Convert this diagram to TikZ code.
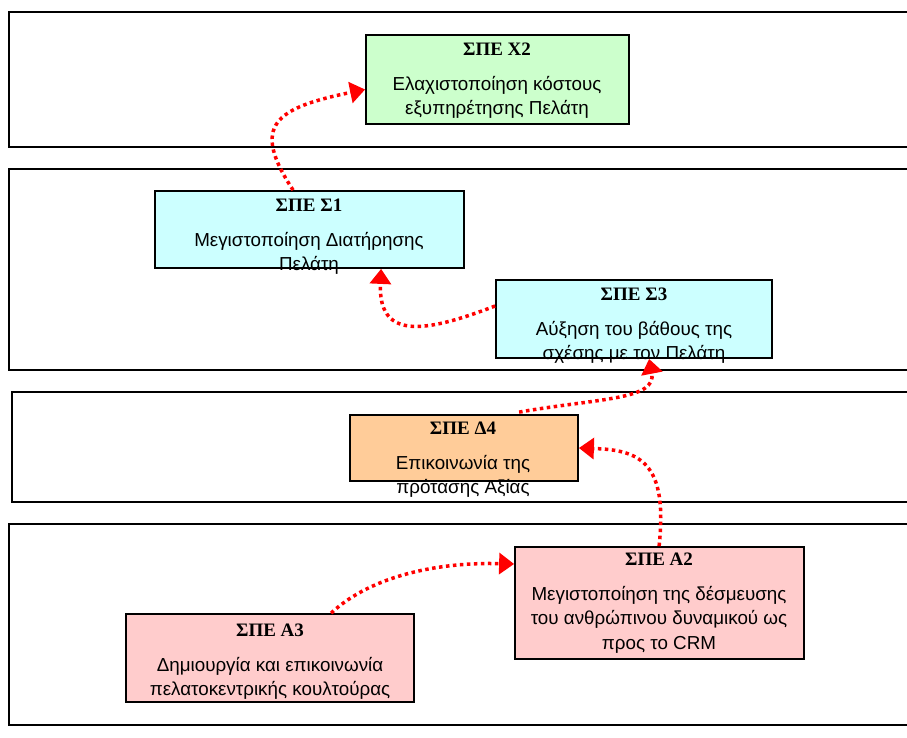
\documentclass[tikz,border=0pt]{standalone}
\usepackage{fontspec}
\setmainfont{Liberation Sans}
\newfontfamily\headfont{Liberation Serif}
\usetikzlibrary{arrows.meta}
\definecolor{kgreen}{HTML}{CCFFCC}
\definecolor{kcyan}{HTML}{CCFFFF}
\definecolor{korange}{HTML}{FFCC99}
\definecolor{kpink}{HTML}{FFCCCC}
\definecolor{kred}{HTML}{FF0000}
\tikzset{
  band/.style={line width=1.5pt, draw=black},
  goalbox/.style={draw=black, line width=1.8pt, inner sep=0pt},
  goaltext/.style={align=center, anchor=north, inner sep=0pt,
    font=\fontsize{18.8}{24.5}\selectfont},
  link/.style={draw=kred, line width=3.5pt, dash pattern=on 3.5pt off 3.5pt,
    -{Triangle[length=15pt,width=21pt]}}
}
\newcommand{\goalhead}[1]{{\headfont\bfseries\fontsize{19}{22}\selectfont #1}\\[10pt]}
\begin{document}
\begin{tikzpicture}[x=1pt,y=-1pt]
\clip (0,0) rectangle (907,738);
\fill[white] (0,0) rectangle (907,738);

% horizontal bands, open towards the right edge
\draw[band] (930,12)  -| (9,147)  -- (930,147);
\draw[band] (930,169) -| (9,370)  -- (930,370);
\draw[band] (930,392) -| (12,502) -- (930,502);
\draw[band] (930,524) -| (9,725)  -- (930,725);

% goal boxes
\node[goalbox, fill=kgreen,  minimum width=263pt, minimum height=89pt] (x2) at (497.5,79.5) {};
\node[goalbox, fill=kcyan,   minimum width=309pt, minimum height=77pt] (s1) at (309.5,229.5) {};
\node[goalbox, fill=kcyan,   minimum width=276pt, minimum height=78pt] (s3) at (634,319) {};
\node[goalbox, fill=korange, minimum width=228pt, minimum height=66pt] (d4) at (464,448) {};
\node[goalbox, fill=kpink,   minimum width=289pt, minimum height=112pt] (a2) at (659.5,603) {};
\node[goalbox, fill=kpink,   minimum width=288pt, minimum height=88pt] (a3) at (270,658) {};

% box texts
\node[goaltext] (x2t) at (497,43)  {\goalhead{ΣΠΕ Χ2}Ελαχιστοποίηση κόστους\\εξυπηρέτησης Πελάτη};
\node[goaltext] (s1t) at (309,199) {\goalhead{ΣΠΕ Σ1}Μεγιστοποίηση Διατήρησης\\Πελάτη};
\node[goaltext] (s3t) at (634,288) {\goalhead{ΣΠΕ Σ3}Αύξηση του βάθους της\\σχέσης με τον Πελάτη};
\node[goaltext] (d4t) at (463,422) {\goalhead{ΣΠΕ Δ4}Επικοινωνία της\\πρότασης Αξίας};
\node[goaltext] (a2t) at (659,553) {\goalhead{ΣΠΕ Α2}Μεγιστοποίηση της δέσμευσης\\του ανθρώπινου δυναμικού ως\\προς το CRM};
\node[goaltext] (a3t) at (270,624) {\goalhead{ΣΠΕ Α3}Δημιουργία και επικοινωνία\\πελατοκεντρικής κουλτούρας};

% connectors
\draw[link] ([xshift=139pt]s1.north west) .. controls (250,125) and (275,108) .. ([yshift=-10pt]x2.west);
\draw[link] ([yshift=13pt]s3.west) .. controls (420,335) and (378,338) .. ([xshift=227pt]s1.south west);
\draw[link] ([xshift=170pt,yshift=2pt]d4.north west) .. controls (600,398) and (657,400) .. ([xshift=154pt]s3.south west);
\draw[link] ([xshift=145pt]a2.north west) .. controls (668,462) and (640,450) .. (d4.east);
\draw[link] ([xshift=206pt]a3.north west) .. controls (372,575) and (440,562) .. ([yshift=39pt]a2.west);
\end{tikzpicture}
\end{document}
